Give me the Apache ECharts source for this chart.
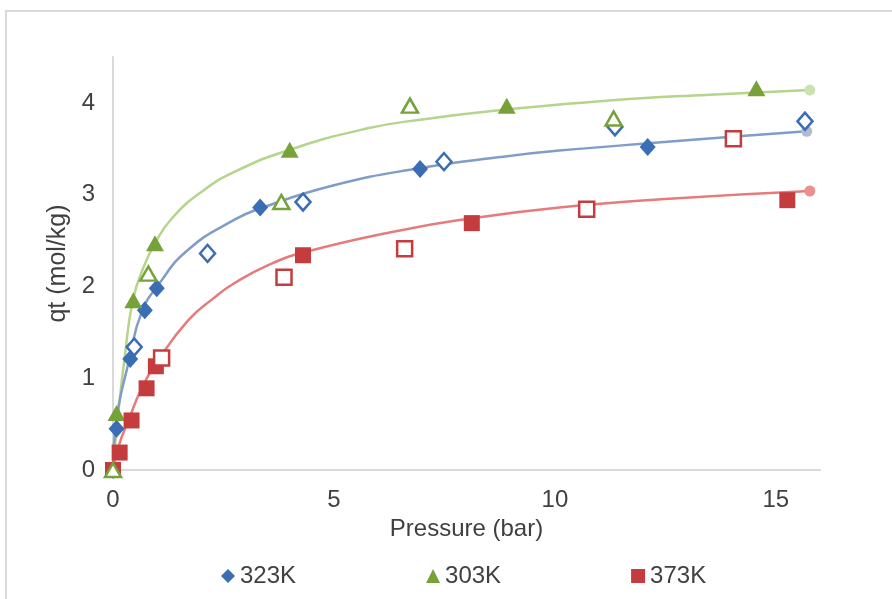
<!DOCTYPE html>
<html>
<head>
<meta charset="utf-8">
<script src="https://cdn.jsdelivr.net/npm/echarts@6/dist/echarts.min.js"></script>
<style>
  html, body { margin: 0; padding: 0; background: #ffffff; }
  #chart { width: 892px; height: 599px; }
</style>
</head>
<body>
<div id="chart"></div>
<script>
// Adsorption (filled) and desorption (hollow) points, pressure in bar, qt in mol/kg
const p323Ads = [0, 0.08, 0.39, 0.72, 0.99, 3.33, 6.95, 12.1];
const q323Ads = [0, 0.45, 1.21, 1.74, 1.98, 2.86, 3.28, 3.52];
const p323Des = [0.48, 2.14, 4.3, 7.49, 11.36, 15.66];
const q323Des = [1.34, 2.36, 2.92, 3.36, 3.74, 3.80];

const p303Ads = [0, 0.08, 0.46, 0.95, 4.0, 8.91, 14.56];
const q303Ads = [0, 0.62, 1.85, 2.47, 3.49, 3.97, 4.16];
const p303Des = [0, 0.80, 3.81, 6.72, 11.33];
const q303Des = [0, 2.14, 2.92, 3.97, 3.83];

const p373Ads = [0, 0.15, 0.42, 0.76, 0.97, 4.3, 8.12, 15.26];
const q373Ads = [0, 0.19, 0.54, 0.89, 1.13, 2.34, 2.69, 2.94];
const p373Des = [1.1, 3.87, 6.6, 10.72, 14.04];
const q373Des = [1.22, 2.10, 2.41, 2.84, 3.61];

// Fitted isotherm curves
const p303Fit = [0, 0.12, 0.27, 0.45, 0.7, 0.95, 1.33, 2.0, 2.76, 4.0, 5.74, 7.0, 8.76, 11.3, 13.5, 15.77];
const q303Fit = [0, 0.62, 1.25, 1.85, 2.22, 2.47, 2.74, 3.03, 3.25, 3.49, 3.72, 3.82, 3.92, 4.03, 4.09, 4.14];
const p323Fit = [0, 0.05, 0.38, 0.65, 1.03, 1.7, 2.76, 3.33, 4.98, 6.95, 8.76, 10.1, 12.4, 14.0, 15.7];
const q323Fit = [0, 0.44, 1.23, 1.72, 2.02, 2.40, 2.73, 2.85, 3.10, 3.29, 3.41, 3.48, 3.57, 3.63, 3.69];
const p373Fit = [0, 0.12, 0.35, 0.65, 1.03, 1.7, 2.27, 2.76, 3.5, 4.31, 6.49, 8.08, 10.1, 12.4, 15.77];
const q373Fit = [0, 0.25, 0.54, 0.89, 1.2, 1.63, 1.87, 2.04, 2.23, 2.37, 2.61, 2.74, 2.86, 2.95, 3.04];

const seriesNames = ['323K', '303K', '373K'];
const xTicks = [0, 5, 10, 15];
const yTicks = [0, 1, 2, 3, 4];

const pairs = (xs, ys) => xs.map((x, i) => [x, ys[i]]);

function fitLine(xs, ys, color, endColor) {
  const pts = pairs(xs, ys);
  const data = pts.map((p, i) => i === pts.length - 1
    ? { value: p, symbol: 'circle', symbolSize: 11, itemStyle: { color: endColor } }
    : { value: p, symbol: 'none' });
  return {
    type: 'line', data, smooth: 0.5,
    showSymbol: true, symbol: 'none',
    lineStyle: { color, width: 2.5 }, itemStyle: { color: endColor },
    z: 1, silent: true, legendHoverLink: false
  };
}

function filled(name, xs, ys, symbol, size, color) {
  return { type: 'scatter', name, data: pairs(xs, ys), symbol, symbolSize: size,
    itemStyle: { color, opacity: 1 }, z: 3 };
}

function hollow(xs, ys, symbol, size, color) {
  return { type: 'scatter', name: 'hollow', data: pairs(xs, ys), symbol, symbolSize: size,
    itemStyle: { color: '#ffffff', borderColor: color, borderWidth: 2.5, opacity: 1 }, z: 4 };
}

const blue = '#3b6db4', green = '#77a23a', red = '#c43c3e';

const chart = echarts.init(document.getElementById('chart'));
chart.setOption({
  backgroundColor: '#ffffff',
  animation: false,
  textStyle: { fontFamily: 'Liberation Sans, Arial, sans-serif' },
  graphic: [{
    type: 'rect', shape: { x: 6, y: 11, width: 1000, height: 1000 },
    style: { fill: 'none', stroke: '#d9d9d9', lineWidth: 2 }, silent: true
  }],
  grid: { left: 113, right: 72, top: 57, bottom: 129 },
  legend: {
    data: [
      { name: seriesNames[0], icon: 'diamond' },
      { name: seriesNames[1], icon: 'triangle' },
      { name: seriesNames[2], icon: 'rect' }
    ],
    left: 216, top: 559, itemWidth: 14, itemHeight: 14, itemGap: 130,
    textStyle: { fontSize: 24, color: '#404040', fontFamily: 'Liberation Sans, Arial, sans-serif' }
  },
  xAxis: {
    type: 'value', min: 0, max: 16, interval: 5,
    name: 'Pressure (bar)', nameLocation: 'middle', nameGap: 45,
    nameTextStyle: { fontSize: 24, color: '#404040' },
    axisLine: { lineStyle: { color: '#d9d9d9', width: 2 } },
    axisTick: { show: false }, splitLine: { show: false },
    axisLabel: { fontSize: 24, color: '#404040', margin: 18,
      formatter: v => xTicks.includes(v) ? String(v) : '' }
  },
  yAxis: {
    type: 'value', min: 0, max: 4.5, interval: 1,
    name: 'qt (mol/kg)', nameLocation: 'middle', nameGap: 31, nameRotate: 90,
    nameTextStyle: { fontSize: 25, color: '#404040', padding: [0, 0, 0, 0] },
    axisLine: { show: true, lineStyle: { color: '#d9d9d9', width: 2 } },
    axisTick: { show: false }, splitLine: { show: false },
    axisLabel: { fontSize: 24, color: '#404040', margin: 18,
      formatter: v => yTicks.includes(v) ? String(v) : '' }
  },
  series: [
    fitLine(p303Fit, q303Fit, '#b5d48c', '#cde2b3'),
    fitLine(p323Fit, q323Fit, '#7f9dc7', '#b3bccb'),
    fitLine(p373Fit, q373Fit, '#e77b7c', '#eb8f91'),
    filled(seriesNames[0], p323Ads, q323Ads, 'diamond', [16, 18], blue),
    hollow(p323Des, q323Des, 'diamond', [15, 17], blue),
    filled(seriesNames[1], p303Ads, q303Ads, 'triangle', [18, 16], green),
    hollow(p303Des, q303Des, 'triangle', [16, 14], green),
    filled(seriesNames[2], p373Ads, q373Ads, 'rect', [16, 16], red),
    hollow(p373Des, q373Des, 'rect', [15, 15], red)
  ]
});
</script>
</body>
</html>
